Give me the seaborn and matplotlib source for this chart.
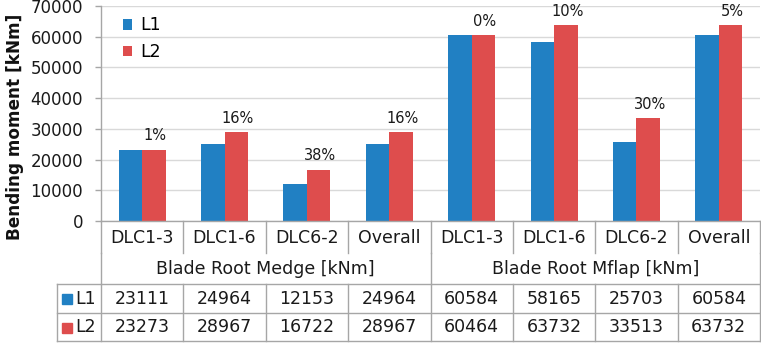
import matplotlib
matplotlib.use("Agg")
import matplotlib.pyplot as plt
import seaborn as sns
import pandas as pd

# ---- data ----
groups = ["Blade Root Medge [kNm]", "Blade Root Mflap [kNm]"]
cases = ["DLC1-3", "DLC1-6", "DLC6-2", "Overall"]
series = ["L1", "L2"]
l1_values = [23111, 24964, 12153, 24964, 60584, 58165, 25703, 60584]
l2_values = [23273, 28967, 16722, 28967, 60464, 63732, 33513, 63732]
pct_labels = ["1%", "16%", "38%", "16%", "0%", "10%", "30%", "5%"]
yticks = [0, 10000, 20000, 30000, 40000, 50000, 60000, 70000]

BLUE = "#2180C3"
RED = "#DE4D4D"
GRID = "#D9D9D9"
LINE = "#A6A6A6"
TXT = "#1a1a1a"

keys = [f"{g}|{c}" for g in groups for c in cases]
df = pd.DataFrame({
    "key": keys * 2,
    "series": ["L1"] * len(keys) + ["L2"] * len(keys),
    "value": l1_values + l2_values,
})

plt.rcParams["font.family"] = ["DejaVu Sans"]
W, H = 761, 343
fig = plt.figure(figsize=(W / 100, H / 100), dpi=100)
AX_L, AX_R, AX_T, AX_B = 101, 760, 6, 221
AXH = AX_B - AX_T
ax = fig.add_axes([AX_L / W, (H - AX_B) / H, (AX_R - AX_L) / W, AXH / H])

sns.barplot(data=df, x="key", y="value", hue="series", order=keys,
            hue_order=series, palette=[BLUE, RED], width=0.57,
            saturation=1, ax=ax, legend=True)

ax.set_xlim(-0.5, len(keys) - 0.5)
ax.set_ylim(0, 70000)
ax.set_yticks(yticks)
ax.set_yticklabels([str(v) for v in yticks], fontsize=12, color=TXT)
ax.set_xticks([])
ax.set_xlabel("")
ax.set_ylabel("")
ax.tick_params(axis="y", length=4, width=1, color=LINE, pad=9)
ax.yaxis.grid(True, color=GRID, lw=1)
ax.set_axisbelow(True)
for s in ["top", "right"]:
    ax.spines[s].set_visible(False)
for s in ["left", "bottom"]:
    ax.spines[s].set_color(LINE)
    ax.spines[s].set_linewidth(1)

# percent labels above L2 bars
for i, (v, t) in enumerate(zip(l2_values, pct_labels)):
    ax.annotate(t, (i + 0.1425, v), xytext=(1, 4.5), textcoords="offset points",
                ha="center", va="bottom", fontsize=10.5, color=TXT)

# legend
handles, labels = ax.get_legend_handles_labels()
ax.legend(handles, labels, loc="upper left", bbox_to_anchor=(0.017, 1.0),
          frameon=False, fontsize=12.5, handlelength=0.55, handleheight=0.55,
          handletextpad=0.45, labelspacing=0.5, borderaxespad=0.2)

# ---- table below the axis ----
tr = ax.get_xaxis_transform()
def yp(px):
    return -px / AXH

n = len(keys)
left_x = -0.5 - (AX_L - 57) / ((AX_R - AX_L) / n)
r1, r2, r3, r4 = 32, 63, 92, 120

def vline(x, y0, y1):
    ax.plot([x, x], [yp(y0), yp(y1)], color=LINE, lw=1, transform=tr, clip_on=False)
def hline(x0, x1, y):
    ax.plot([x0, x1], [yp(y), yp(y)], color=LINE, lw=1, transform=tr, clip_on=False)

for b in range(n + 1):
    xb = b - 0.5
    vline(xb, 0, r1)
    vline(xb, r2, r4)
for b in [0, len(cases), n]:
    vline(b - 0.5, r1, r2)
vline(left_x, r2, r4)
hline(left_x, n - 0.5, r2)
hline(left_x, n - 0.5, r3)
hline(left_x, n - 0.5, r4)

# case labels
for i, k in enumerate(keys):
    ax.text(i, yp(r1 / 2 + 1), k.split("|")[1], transform=tr, ha="center",
            va="center", fontsize=12.5, color=TXT, clip_on=False)
# group labels
for gi, g in enumerate(groups):
    xc = gi * len(cases) + (len(cases) - 1) / 2
    ax.text(xc, yp((r1 + r2) / 2 + 1), g, transform=tr, ha="center",
            va="center", fontsize=12.5, color=TXT, clip_on=False)
# values rows
for (vals, color, name, y0, y1) in [(l1_values, BLUE, "L1", r2, r3),
                                    (l2_values, RED, "L2", r3, r4)]:
    yc = yp((y0 + y1) / 2 + 0.5)
    for i, v in enumerate(vals):
        ax.text(i, yc, str(v), transform=tr, ha="center", va="center",
                fontsize=12.5, color=TXT, clip_on=False)
    ax.plot([left_x + 0.12], [yc], marker="s", ms=6.5, color=color,
            transform=tr, clip_on=False, lw=0)
    ax.text(left_x + 0.22, yc, name, transform=tr, ha="left", va="center",
            fontsize=12.5, color=TXT, clip_on=False)

fig.text(15 / W, 1 - 127 / H, "Bending moment [kNm]", rotation=90,
         ha="center", va="center", fontsize=12.2, fontweight="bold", color="#111111")

fig.savefig("out.png", dpi=100)
